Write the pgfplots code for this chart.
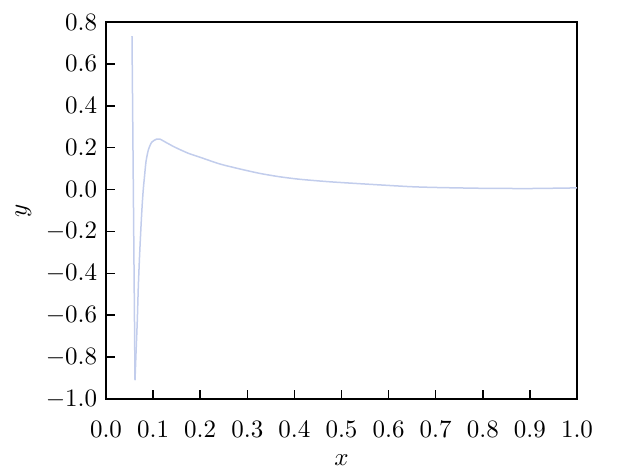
\documentclass[border=0pt]{standalone}
\usepackage{pgfplots}
\pgfplotsset{compat=1.18}
\definecolor{curve}{RGB}{194,205,236}
\begin{document}
\begin{tikzpicture}
\begin{axis}[
  scale only axis,
  width=188.4pt, height=150.8pt,
  xmin=0, xmax=1, ymin=-1, ymax=0.8,
  xtick={0,0.1,...,1.0},
  ytick={-1,-0.8,...,0.8},
  tick align=inside,
  xtick pos=left, ytick pos=left,
  major tick length=3.6pt,
  axis line style={line width=0.8pt},
  every tick/.style={black, line width=0.6pt},
  xticklabel style={yshift=-5.6pt, /pgf/number format/.cd, fixed, fixed zerofill, precision=1},
  yticklabel style={/pgf/number format/.cd, fixed, fixed zerofill, precision=1},
  xlabel={$x$}, ylabel={$y$},
  xlabel style={yshift=0pt},
  ylabel style={yshift=-1pt},
]
\addplot[curve, line width=0.6pt, line join=round] coordinates {
(0.0552,0.733) (0.0616,-0.910)
};
\addplot[curve, line width=0.6pt, line join=round, smooth, tension=0.4] coordinates {
(0.0616,-0.910) (0.0637,-0.782) (0.0665,-0.623) (0.0686,-0.464)
(0.0715,-0.305) (0.0750,-0.146) (0.0772,-0.060) (0.0795,0.010) (0.0814,0.054)
(0.0849,0.133) (0.0899,0.189) (0.0970,0.226) (0.1076,0.241) (0.1146,0.241)
(0.125,0.228) (0.1465,0.202) (0.175,0.173) (0.200,0.154) (0.242,0.122)
(0.285,0.098) (0.327,0.077) (0.369,0.061) (0.412,0.049) (0.476,0.037)
(0.561,0.025) (0.645,0.014) (0.700,0.010) (0.800,0.006) (0.900,0.005) (1.000,0.008)
};
\end{axis}
\pgfresetboundingbox
\path[use as bounding box] (-42.4pt,-28.8pt) rectangle (214.8pt,159.6pt);
\end{tikzpicture}
\end{document}
